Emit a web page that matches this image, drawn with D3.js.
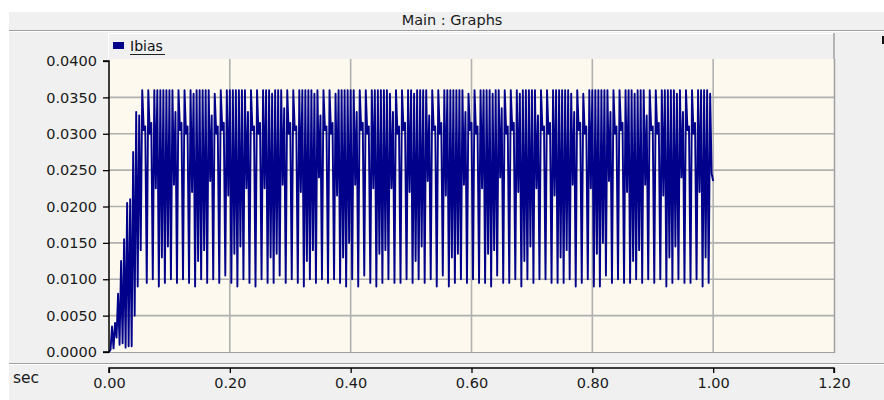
<!DOCTYPE html>
<html><head><meta charset="utf-8">
<script src="https://cdn.jsdelivr.net/npm/d3@7"></script>
<style>html,body{margin:0;padding:0;background:#fff;overflow:hidden}svg{display:block}</style>
</head><body>
<svg id="c" width="884" height="400"></svg>
<script>
const titleText = "Main : Graphs";
const seriesName = "Ibias";
const xAxisName = "sec";
const xTicks = [0, 0.2, 0.4, 0.6, 0.8, 1.0, 1.2];
const xTickLabels = ["0.00", "0.20", "0.40", "0.60", "0.80", "1.00", "1.20"];
const yTicks = [0, 5, 10, 15, 20, 25, 30, 35, 40];            // mA
const yTickLabels = ["0.0000", "0.0050", "0.0100", "0.0150", "0.0200", "0.0250", "0.0300", "0.0350", "0.0400"];
const sampleStep = 0.0025;                                     // s between plotted samples
const ibias_mA = [
  0, 0.3, 3.5, 0.5, 4.0, 2.0, 8.0, 1.0, 12.5, 1.2, 15.5, 0.6, 20.5, 0.8, 21, 0.8, 27.5, 5.0, 33, 9.0, 32.5, 14,
  36, 30.5, 31, 9.5,  36, 30, 31.5, 10,  36, 22.5, 36, 9,  36, 13, 36, 9.5,  36, 14.5, 36, 10,  36, 23, 33, 9.5,
  36, 30.5, 31.5, 10,  36, 30, 31, 9.5,  36, 22, 35.5, 9,  36, 12.5, 36, 10,  36, 14, 36, 9.5,  36, 23.5, 32.5, 10,
  35.5, 30, 31, 9.5,  36, 30.5, 31.5, 10.5,  36, 21.5, 36, 9.5,  36, 13.5, 36, 9,  36, 14.5, 36, 10,  36, 22.5, 33, 9.5,
  36, 30.5, 31, 9,  36, 30, 31.5, 10,  36, 22.5, 36, 9.5,  36, 13, 35.5, 9.5,  36, 13.5, 36, 10.5,  36, 23, 33.5, 9.5,
  36, 30, 31.5, 10,  36, 30.5, 31, 9.5,  36, 22, 36, 9,  36, 12.5, 36, 10,  36, 14, 35.5, 9.5,  36, 24, 32.5, 10,
  36, 30.5, 31, 9.5,  36, 30, 31.5, 10,  35.5, 21.5, 36, 9.5,  36, 13, 36, 9,  36, 15, 36, 10,  36, 23, 33, 9,
  36, 30.5, 31.5, 10.5,  36, 30, 31, 9.5,  36, 22.5, 36, 9,  36, 13.5, 36, 9.5,  36, 14, 36, 10,  35.5, 22.5, 33, 9.5,
  36, 30, 31, 9.5,  36, 30.5, 31.5, 10,  36, 22, 36, 9.5,  35.5, 12.5, 36, 10,  36, 14.5, 36, 9.5,  36, 23.5, 32.5, 10,
  36, 30.5, 31, 9,  36, 30, 31.5, 10.5,  36, 21.5, 36, 9,  36, 13, 36, 9.5,  36, 13.5, 36, 10,  36, 23, 33, 9.5,
  35.5, 30.5, 31.5, 10,  36, 30, 31, 9.5,  36, 22.5, 36, 9.5,  36, 13.5, 36, 9,  35.5, 14, 36, 10.5,  36, 24, 33.5, 9.5,
  36, 30, 31, 9.5,  36, 30.5, 31.5, 10,  36, 22, 35.5, 9,  36, 12.5, 36, 10,  36, 14.5, 36, 9.5,  36, 22.5, 32.5, 10,
  36, 30.5, 31, 10,  36, 30, 31.5, 9.5,  36, 21.5, 36, 9.5,  36, 13, 36, 9.5,  36, 14, 36, 10,  35.5, 23, 33, 9,
  36, 30.5, 31.5, 9.5,  35.5, 30, 31, 10,  36, 22.5, 36, 9,  36, 13.5, 36, 9,  36, 15, 36, 10.5,  36, 23.5, 33, 9.5,
  36, 30, 31, 10,  36, 30.5, 31.5, 9.5,  36, 22, 36, 9.5,  36, 12.5, 35.5, 10,  36, 14, 36, 9.5,  36, 23, 32.5, 10,
  36, 30.5, 31, 9.5,  36, 30, 31.5, 10,  36, 21.5, 36, 9,  36, 13, 36, 9.5,  36, 14.5, 35.5, 10,  36, 24, 33, 9.5,
  36, 30.5, 31, 9.5,  36, 30, 31.5, 10,  36, 22, 36, 9,  36, 13, 36, 9.5,  35.5, 24.5, 23.5
];

const W = 884, H = 400;
const plot = {left: 109, right: 834, top: 59, bottom: 352};
const svg = d3.select("#c");
const FONT = "DejaVu Sans, Verdana, sans-serif";
const GRAY = "#f0f0f0", EDGE = "#a0a0a0", NAVY = "#00008b";

svg.append("rect").attr("width", W).attr("height", H).attr("fill", "#fff");
svg.append("rect").attr("x", 9).attr("y", 12).attr("width", W - 9).attr("height", H - 12).attr("fill", GRAY);

// title bar
svg.append("text").attr("x", 452).attr("y", 25).attr("text-anchor", "middle")
  .attr("font-family", FONT).attr("font-size", 14.5).attr("fill", "#1a1a1a").text(titleText);
svg.append("line").attr("x1", 9).attr("x2", W).attr("y1", 30.5).attr("y2", 30.5).attr("stroke", EDGE);
svg.append("line").attr("x1", 9).attr("x2", W).attr("y1", 31.5).attr("y2", 31.5).attr("stroke", "#fff");

// legend bar
svg.append("rect").attr("x", 108).attr("y", 33).attr("width", 726).attr("height", 26).attr("fill", GRAY);
svg.append("line").attr("x1", 108).attr("x2", 834).attr("y1", 33.5).attr("y2", 33.5).attr("stroke", "#fff");
svg.append("line").attr("x1", 108.5).attr("x2", 108.5).attr("y1", 33).attr("y2", 59).attr("stroke", "#fff");
svg.append("line").attr("x1", 834).attr("x2", 834).attr("y1", 33).attr("y2", 60).attr("stroke", EDGE).attr("stroke-width", 1.5);
svg.append("rect").attr("x", 113).attr("y", 42).attr("width", 11).attr("height", 7).attr("fill", NAVY);
svg.append("text").attr("x", 130).attr("y", 51).attr("font-family", FONT).attr("font-size", 14)
  .attr("fill", "#111").text(seriesName);
svg.append("line").attr("x1", 130).attr("x2", 165).attr("y1", 54.5).attr("y2", 54.5).attr("stroke", "#222");

// small mark at right edge
svg.append("rect").attr("x", 882).attr("y", 36).attr("width", 2).attr("height", 8).attr("fill", "#111");

// plot area
svg.append("rect").attr("x", plot.left).attr("y", plot.top).attr("width", plot.right - plot.left)
  .attr("height", plot.bottom - plot.top).attr("fill", "#fdf9ee");

const x = d3.scaleLinear().domain([0, 1.2]).range([plot.left, plot.right]);
const y = d3.scaleLinear().domain([0, 40]).range([352, 61]);

const grid = svg.append("g").attr("stroke", "#b0b0b0").attr("stroke-width", 1.6);
grid.selectAll("line.h").data(yTicks.filter(v => v > 0 && v < 40)).join("line")
  .attr("x1", plot.left).attr("x2", plot.right).attr("y1", d => y(d)).attr("y2", d => y(d));
grid.selectAll("line.v").data(xTicks.filter(v => v > 0 && v < 1.2)).join("line")
  .attr("x1", d => x(d)).attr("x2", d => x(d)).attr("y1", plot.top).attr("y2", plot.bottom);

// borders
svg.append("line").attr("x1", plot.right + 0.5).attr("x2", plot.right + 0.5).attr("y1", plot.top).attr("y2", plot.bottom + 1)
  .attr("stroke", EDGE).attr("stroke-width", 1.5);
svg.append("line").attr("x1", plot.left).attr("x2", plot.right + 1).attr("y1", plot.bottom + 0.5).attr("y2", plot.bottom + 0.5)
  .attr("stroke", EDGE).attr("stroke-width", 1.2);

// signal
svg.append("clipPath").attr("id", "clip").append("rect")
  .attr("x", plot.left).attr("y", plot.top).attr("width", plot.right - plot.left).attr("height", plot.bottom - plot.top + 1);
const pts = ibias_mA.map((v, i) => [i * sampleStep, v]);
svg.append("path").datum(pts).attr("clip-path", "url(#clip)")
  .attr("fill", "none").attr("stroke", NAVY).attr("stroke-width", 1.9).attr("stroke-linejoin", "round")
  .attr("d", d3.line().x(d => x(d[0])).y(d => y(d[1])));

// y axis
const yAxis = d3.axisLeft(y).tickValues(yTicks).tickSize(6).tickPadding(6)
  .tickFormat((d, i) => yTickLabels[i]);
const gy = svg.append("g").attr("transform", `translate(${plot.left},0)`).call(yAxis);
gy.select(".domain").attr("stroke", "#000").attr("stroke-width", 1.5).attr("d", `M-6,${y(40)}H0V${y(0)}H-6`);
gy.selectAll(".tick line").attr("stroke", "#000").attr("stroke-width", 1.3);
gy.selectAll(".tick text").attr("font-family", FONT).attr("font-size", 14.5).attr("fill", "#1a1a1a");

// separator
svg.append("line").attr("x1", 9).attr("x2", W).attr("y1", 363.5).attr("y2", 363.5).attr("stroke", EDGE);
svg.append("line").attr("x1", 9).attr("x2", W).attr("y1", 364.5).attr("y2", 364.5).attr("stroke", "#fff");

// x axis
const xAxis = d3.axisBottom(x).tickValues(xTicks).tickSize(5).tickPadding(5)
  .tickFormat((d, i) => xTickLabels[i]);
const gx = svg.append("g").attr("transform", "translate(0,368)").call(xAxis);
gx.select(".domain").attr("stroke", "#000").attr("stroke-width", 1.5).attr("d", `M${x(0)},5V0H${x(1.2)}V5`);
gx.selectAll(".tick line").attr("stroke", "#000").attr("stroke-width", 1.3);
gx.selectAll(".tick text").attr("font-family", FONT).attr("font-size", 14.5).attr("fill", "#1a1a1a");

svg.append("text").attr("x", 13).attr("y", 383).attr("font-family", FONT).attr("font-size", 15.5)
  .attr("fill", "#1a1a1a").text(xAxisName);
</script>
</body></html>
